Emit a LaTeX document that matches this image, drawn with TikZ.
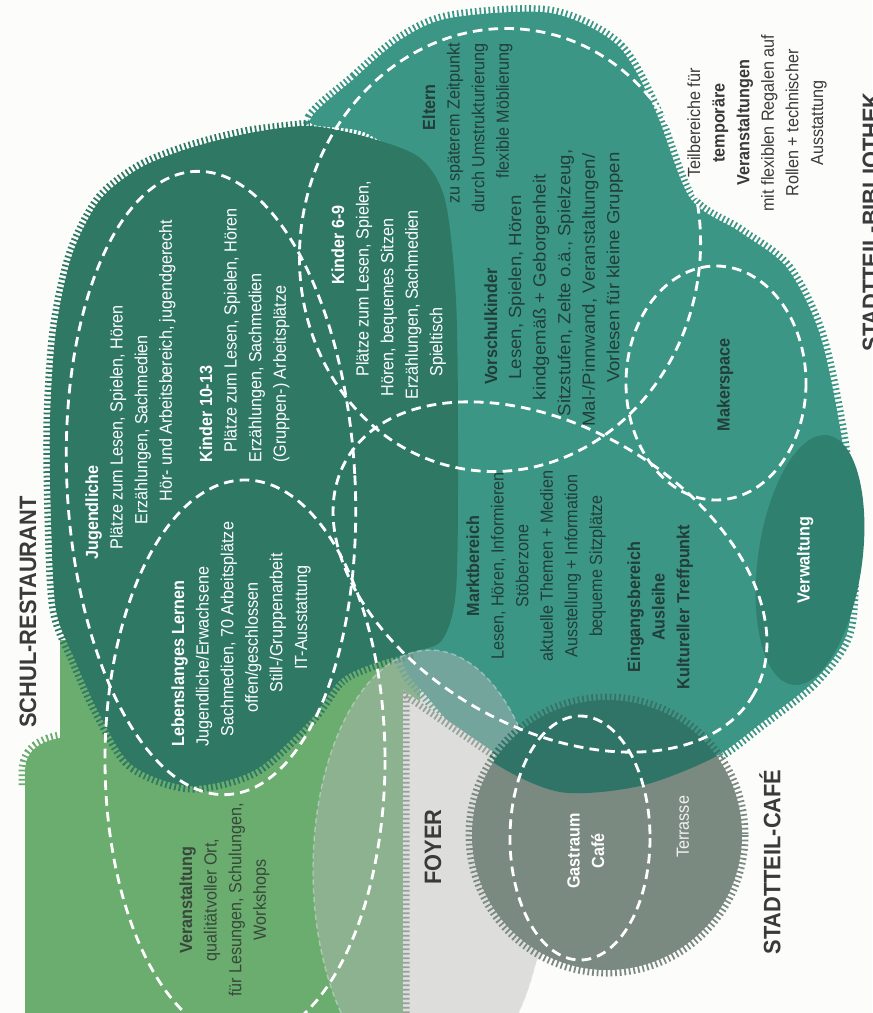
\documentclass[tikz,border=0pt]{standalone}
\usepackage{fontspec}
\setmainfont{Liberation Sans}[FakeStretch=0.92]
\usetikzlibrary{calc}

\definecolor{paper}{RGB}{252,252,250}
\definecolor{tealC}{RGB}{60,150,134}
\definecolor{darkC}{RGB}{46,120,100}
\definecolor{verwC}{RGB}{47,128,110}
\definecolor{lgreenC}{RGB}{106,173,111}
\definecolor{foyerC}{RGB}{221,221,219}
\definecolor{cafeC}{RGB}{123,138,128}
\definecolor{overC}{RGB}{47,116,102}
\definecolor{lensC}{RGB}{185,185,185}
\definecolor{tickC}{RGB}{150,162,152}
\definecolor{tdark}{RGB}{33,62,56}
\definecolor{vtext}{RGB}{55,72,58}
\definecolor{labelC}{RGB}{58,58,58}

\newlength\pxu
\setlength\pxu{0.02cm}
\newcommand\ind[1]{\hspace*{#1\pxu}}

\tikzset{
  teeth/.style={line width=0.26cm, dash pattern=on 0.035cm off 0.055cm},
  zone/.style={draw=white, line width=1.6pt, dash pattern=on 5.5pt off 3.5pt},
  txt/.style={rotate=90, inner sep=0pt, font=\fontsize{10}{14}\selectfont},
  txtb/.style={txt, font=\bfseries\fontsize{10}{14}\selectfont},
  big/.style={rotate=90, inner sep=0pt, text=labelC, font=\bfseries\fontsize{13.5}{16}\selectfont},
}

\begin{document}
\begin{tikzpicture}[x=0.02cm, y=-0.02cm]
  \useasboundingbox (0,0) rectangle (872,1013);
  \fill[paper] (0,0) rectangle (872,1013);

  % Veranstaltung (light green)
  \fill[lgreenC] (25,1013) -- (25,772) .. controls (25,752) and (38,742) .. (60,738)
    -- (60,640) -- (420,640) -- (420,1013) -- cycle;
  \draw[teeth, lgreenC] (25,785) -- (25,772) .. controls (25,752) and (38,742) .. (60,738);

  % Bibliothek (teal)
  \fill[tealC] plot[smooth cycle] coordinates {(310,122) (355,78) (400,40) (450,18) (550,13)
    (617,45) (655,110) (690,198) (740,232) (787,268) (820,335) (842,440) (852,540) (848,630)
    (815,680) (760,724) (713,758) (640,786) (560,792) (490,760) (430,700) (400,640)
    (440,450) (430,200) (370,135)};
  \draw[teeth, tealC] plot[smooth cycle] coordinates {(310,122) (355,78) (400,40) (450,18) (550,13)
    (617,45) (655,110) (690,198) (740,232) (787,268) (820,335) (842,440) (852,540) (848,630)
    (815,680) (760,724) (713,758) (640,786) (560,792) (490,760) (430,700) (400,640)
    (440,450) (430,200) (370,135)};

  % Schul-Restaurant side (dark green)
  \fill[darkC] plot[smooth cycle] coordinates {(310,126) (250,133) (190,148) (140,168) (100,200)
    (72,255) (56,330) (50,420) (51,520) (56,610) (75,660) (100,715) (132,765) (190,786)
    (255,770) (310,720) (340,680) (372,664) (412,652) (442,640) (456,590) (458,450)
    (456,300) (445,200) (420,158) (370,138)};
  \draw[teeth, darkC] plot[smooth] coordinates {(412,652) (372,664) (340,680) (310,720)
    (255,770) (190,786) (132,765) (100,715) (75,660) (56,610) (51,520) (50,420) (56,330)
    (72,255) (100,200) (140,168) (190,148) (250,133) (310,126)};

  % Verwaltung
  \fill[verwC, rotate around={-8:(810,560)}] (810,560) ellipse [x radius=52, y radius=126];

  % Foyer lens
  \fill[lensC, opacity=.45] (430,870) ellipse [x radius=117, y radius=220];
  \draw[white, opacity=.35, line width=.8pt, dash pattern=on 3pt off 2pt] (430,870) ellipse [x radius=117, y radius=220];

  % Foyer
  \fill[foyerC] (403,690) -- (505,760) -- (600,850) -- (545,945)
    .. controls (530,975) and (515,995) .. (505,1013) -- (403,1013) -- cycle;
  \begin{scope}
    \clip (403,690) -- (505,760) -- (600,850) -- (545,945)
      .. controls (530,975) and (515,995) .. (505,1013) -- (403,1013) -- cycle;
    \draw[teeth, tickC] (403,1013) -- (403,690) -- (505,760);
  \end{scope}

  % Stadtteil-Cafe
  \fill[cafeC] (607,835) circle [radius=135];
  \draw[teeth, cafeC] (607,835) circle [radius=135];
  \begin{scope}
    \clip plot[smooth cycle] coordinates {(310,122) (355,78) (400,40) (450,18) (550,13)
      (617,45) (655,110) (690,198) (740,232) (787,268) (820,335) (842,440) (852,540) (848,630)
      (815,680) (760,724) (713,758) (640,786) (560,792) (490,760) (430,700) (400,640)
      (440,450) (430,200) (370,135)};
    \fill[overC] (607,835) circle [radius=135];
    \draw[teeth, overC] (607,835) circle [radius=135];
  \end{scope}

  % dashed zones
  \draw[zone, rotate around={3:(211,483)}] (211,483) ellipse [x radius=144, y radius=312];
  \draw[zone] (245,760) ellipse [x radius=140, y radius=280];
  \draw[zone, rotate around={-9:(500,250)}] (500,250) ellipse [x radius=200, y radius=222];
  \draw[zone, rotate around={-30:(550,577)}] (550,577) ellipse [x radius=235, y radius=150];
  \draw[zone] (716,383) ellipse [x radius=90, y radius=117];
  \draw[zone] (580,838) ellipse [x radius=70, y radius=122];

  % texts
  \node[txt, text=white, anchor=north west, align=left] (jugtxt) at (85,560)
    {\textbf{Jugendliche}\\\ind{10}Plätze zum Lesen, Spielen, Hören\\\ind{35}Erzählungen, Sachmedien\\\ind{58}Hör- und Arbeitsbereich, jugendgerecht};
  \node[txt, text=white, anchor=north west, align=left] (k1013txt) at (199,463)
    {\textbf{Kinder 10-13}\\\ind{10}Plätze zum Lesen, Spielen, Hören\\Erzählungen, Sachmedien\\(Gruppen-) Arbeitsplätze};
  \node[txt, text=white, anchor=north west, align=left] (k69txt) at (331,400)
    {\ind{115}\textbf{Kinder 6-9}\\\ind{23}Plätze zum Lesen, Spielen,\\\ind{3}Hören, bequemes Sitzen\\Erzählungen, Sachmedien\\\ind{23}Spieltisch};
  \node[txt, text=white, anchor=north west, align=left] (lltxt) at (171,747)
    {\textbf{Lebenslanges Lernen}\\Jugendliche/Erwachsene\\\ind{10}Sachmedien, 70 Arbeitsplätze\\\ind{34}offen/geschlossen\\\ind{54}Still-/Gruppenarbeit\\\ind{77}IT-Ausstattung};
  \node[txt, text=vtext, anchor=north, align=center] (vertxt) at (179,900)
    {\textbf{Veranstaltung}\\qualitätvoller Ort,\\für Lesungen, Schulungen,\\Workshops};
  \node[txt, text=tdark, anchor=north east, align=right] (elterntxt) at (422,43)
    {\textbf{Eltern}\ind{41}\\zu späterem Zeitpunkt\\durch Umstrukturierung\\flexible Möblierung};
  \node[txtb, text=tdark, anchor=north west] (vorschtitle) at (484,385) {Vorschulkinder};
  \node[txt, xscale=1.15, text=tdark, anchor=north west, align=left] (vorschtxt) at (508,427)
    {\ind{41}Lesen, Spielen, Hören\\\ind{23}kindgemäß + Geborgenheit\\\ind{9}Sitzstufen, Zelte o.ä., Spielzeug,\\Mal-/Pinnwand, Veranstaltungen/\\\ind{38}Vorlesen für kleine Gruppen};
  \node[txt, text=tdark, anchor=north, align=center] (markttxt) at (466,566)
    {\textbf{Marktbereich}\\Lesen, Hören, Informieren\\Stöberzone\\aktuelle Themen + Medien\\Ausstellung + Information\\bequeme Sitzplätze};
  \node[txtb, text=tdark, anchor=north, align=center] (eingtxt) at (627,607)
    {Eingangsbereich\\Ausleihe\\Kultureller Treffpunkt};
  \node[txtb, text=tdark] (makertxt) at (725,385) {Makerspace};
  \node[txtb, text=white] (verwtxt) at (805,560) {Verwaltung};
  \node[txtb, text=white, anchor=north, align=center] (gasttxt) at (567,851) {Gastraum\\Café};
  \node[txt, text=white!88!gray] (terrtxt) at (683,827) {Terrasse};
  \node[txt, text=labelC, anchor=north, align=center] (teiltxt) at (687,123)
    {Teilbereiche für\\\textbf{temporäre}\\\textbf{Veranstaltungen}\\mit flexiblen Regalen auf\\Rollen + technischer\\Ausstattung};

  % area labels
  \node[big] (schul) at (28,612) {SCHUL-RESTAURANT};
  \node[big] (foyer) at (433,847) {FOYER};
  \node[big] (stcafe) at (770,862) {STADTTEIL-CAFÉ};
  \node[big] (stbib) at (871,222) {STADTTEIL-BIBLIOTHEK};
\end{tikzpicture}
\end{document}
